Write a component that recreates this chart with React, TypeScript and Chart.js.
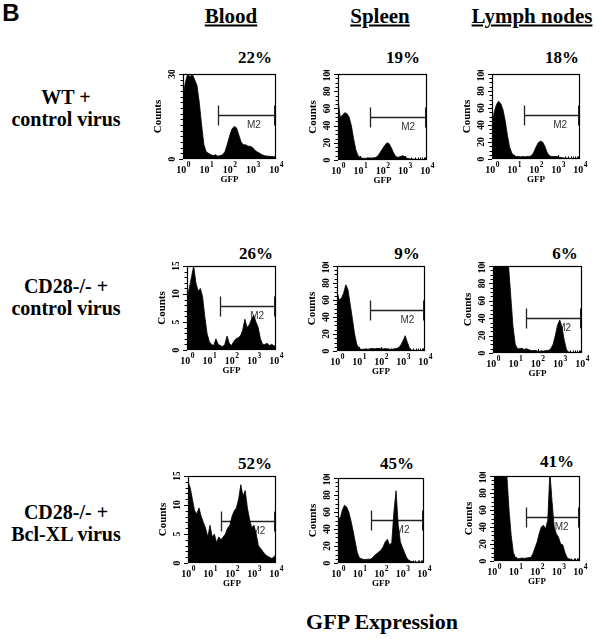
import React, { useEffect, useRef } from "react";
import { Chart, registerables } from "chart.js";

Chart.register(...registerables);

// ---------- data ----------
const panelLetter = "B";
const columnTitles = ["Blood", "Spleen", "Lymph nodes"];
const rowTitles = [
  ["WT +", "control virus"],
  ["CD28-/- +", "control virus"],
  ["CD28-/- +", "Bcl-XL virus"],
];
const percents = ["22%", "19%", "18%", "26%", "9%", "6%", "52%", "45%", "41%"];
const xAxisTitle = "GFP";
const yAxisTitle = "Counts";
const figureTitle = "GFP Expression";
const gateName = "M2";

// GFP bins, in decades (10^0 .. 10^4)
const gfpDecades = [
  0, 0.1, 0.2, 0.3, 0.4, 0.5, 0.6, 0.7, 0.8, 0.9,
  1, 1.1, 1.2, 1.3, 1.4, 1.5, 1.6, 1.7, 1.8, 1.9,
  2, 2.1, 2.2, 2.3, 2.4, 2.5, 2.6, 2.7, 2.8, 2.9,
  3, 3.1, 3.2, 3.3, 3.4, 3.5, 3.6, 3.7, 3.8, 3.9, 4,
];
const xMajorDecades = [0, 1, 2, 3, 4];

const wtBloodCounts = [22, 27, 30, 29, 30, 28, 26, 20, 12, 5, 2.5, 2, 1.5, 1.2, 1.5, 1, 1.2, 1.5, 2.5, 5, 8, 10.5, 11.5, 11, 8.5, 6, 5, 5, 4.5, 4.5, 4, 3, 2.5, 2, 1.5, 1.2, 1, 1, 0.8, 0.8, 0.6];
const wtSpleenCounts = [70, 50, 52, 55, 54, 50, 40, 25, 12, 5, 3, 2, 2, 2, 2.5, 2, 2.5, 3, 5, 9, 13, 17, 20, 19, 14, 8, 4, 3, 4, 5, 4, 2, 1.5, 1, 1, 0.8, 0.6, 0.5, 0.5, 0.4, 0.3];
const wtLymphCounts = [40, 55, 64, 68, 65, 58, 45, 28, 14, 7, 4, 3, 3, 2.5, 3, 2.5, 3, 3, 4, 8, 14, 19, 21, 20, 15, 8, 4, 3, 3, 3, 2.5, 2, 1.5, 1, 1, 0.8, 0.6, 0.5, 0.4, 0.4, 0.3];
const cd28BloodCounts = [9, 11, 13, 15, 12, 10.5, 11, 9.5, 6, 3, 1.5, 1, 0.8, 2, 1, 0.8, 0.6, 1, 2.5, 1.2, 0.8, 1.5, 2, 2.2, 2.5, 3.5, 5.5, 4, 4.5, 5.5, 6.2, 5, 4, 2, 1, 1, 1.2, 0.8, 1, 0.8, 0.6];
const cd28SpleenCounts = [70, 60, 62, 68, 78, 72, 55, 38, 20, 8, 3, 2, 2, 2.5, 2, 2.5, 3, 2.5, 3, 3, 2.5, 2.5, 3, 2.5, 2, 2, 2.5, 3, 4, 7, 12, 18, 10, 3, 1, 0.8, 0.6, 0.5, 0.5, 0.4, 0.3];
const cd28LymphCounts = [180, 230, 250, 220, 190, 150, 115, 100, 65, 30, 10, 5, 5, 5.5, 4, 5, 4, 3, 2.5, 3, 2, 2, 2.5, 2, 3, 3, 5, 10, 20, 32, 38, 30, 15, 4, 1, 0.8, 0.5, 0.5, 0.4, 0.3, 0.3];
const bclBloodCounts = [14, 13, 11, 9, 8.5, 9.5, 8, 7, 6, 4.5, 6.5, 4.5, 5, 3.5, 4.5, 4, 4.5, 5, 6, 6.5, 8, 9, 9.5, 11, 13.5, 11.5, 12.5, 9.5, 7.5, 6, 6.5, 5, 3, 2.5, 2, 1.5, 1.2, 1, 0.8, 1, 1.5];
const bclSpleenCounts = [55, 52, 62, 68, 66, 60, 50, 38, 25, 12, 6, 5, 4, 4, 4.5, 4.5, 6, 9, 11, 13, 15, 19, 25, 28, 21, 24, 60, 85, 45, 25, 18, 12, 6, 3, 2, 1.5, 1, 1, 0.8, 0.6, 0.5];
const bclLymphCounts = [130, 160, 180, 170, 150, 125, 100, 60, 30, 10, 4, 3, 3, 3.5, 3, 3.5, 4, 4, 8, 15, 22, 32, 40, 42, 38, 48, 105, 70, 40, 32, 28, 20, 19, 10, 4, 2, 1.5, 1, 0.8, 0.8, 0.6];

const panelCounts = [
  wtBloodCounts, wtSpleenCounts, wtLymphCounts,
  cd28BloodCounts, cd28SpleenCounts, cd28LymphCounts,
  bclBloodCounts, bclSpleenCounts, bclLymphCounts,
];
const yMax = [30, 100, 100, 15, 100, 100, 15, 100, 100];
const yLabelStep = [30, 20, 20, 5, 20, 20, 5, 20, 20];
const yMinorStep = [2, 5, 5, 1, 5, 5, 1, 5, 5];
const m2Start = [1.49, 1.44, 1.45, 1.5, 1.5, 1.5, 1.5, 1.54, 1.49];
const m2Level = [15.5, 50, 52, 7.9, 48.5, 40, 7.3, 50.6, 51.6];
const m2LabelAt = [3.05, 3.15, 3.1, 3.15, 3.2, 3.2, 3.2, 3.0, 3.15];

// ---------- layout ----------
const panelBoxes = [
  [183, 74, 276, 159], [338, 74, 427, 160], [492, 74, 580, 159],
  [187, 266, 276, 350], [337, 266, 425, 351], [493, 266, 582, 353],
  [188, 476, 276, 563], [338, 478, 424, 563], [494, 476, 580, 561],
];
const percentPos = [
  [255, 57], [403, 57], [562, 57],
  [256, 253], [407, 253], [565, 253],
  [255, 463], [397, 463], [557, 461],
];
const headerPos = [[231, 16], [380, 16], [532, 16]];
const rowLabelPos = [[66, 97], [66, 286], [66, 512]];

const PAD_L = 40, PAD_T = 4, PAD_R = 14, PAD_B = 30;
const SERIF = '"Liberation Serif", "Times New Roman", serif';

function makePlugin(idx: number) {
  return {
    id: "facs" + idx,
    beforeDatasetsDraw(chart: any) {
      const { ctx, scales } = chart;
      const x = scales.x, y = scales.y;
      const lv = Math.round(y.getPixelForValue(m2Level[idx])) + 0.5;
      const x0 = Math.round(x.getPixelForValue(m2Start[idx])) + 0.5;
      const x1 = x.getPixelForValue(4);
      ctx.save();
      ctx.strokeStyle = "#222";
      ctx.lineWidth = 1.3;
      ctx.beginPath();
      ctx.moveTo(x0, lv); ctx.lineTo(x1, lv);
      ctx.moveTo(x0, lv - 10); ctx.lineTo(x0, lv + 10);
      ctx.stroke();
      ctx.lineWidth = 2;
      ctx.beginPath();
      ctx.moveTo(x1 - 1, lv - 10); ctx.lineTo(x1 - 1, lv + 10);
      ctx.stroke();
      ctx.fillStyle = "#333";
      ctx.font = '10px "Liberation Sans", Arial, sans-serif';
      ctx.textAlign = "center";
      ctx.textBaseline = "middle";
      ctx.fillText(gateName, x.getPixelForValue(m2LabelAt[idx]), lv + 10);
      ctx.restore();
    },
    afterDatasetsDraw(chart: any) {
      const { ctx, chartArea: a, scales } = chart;
      const x = scales.x, y = scales.y;
      ctx.save();
      ctx.strokeStyle = "#000";
      ctx.fillStyle = "#000";
      ctx.lineWidth = 1.2;
      ctx.strokeRect(a.left + 0.5, a.top + 0.5, a.right - a.left - 1, a.bottom - a.top - 1);
      // x ticks (inward)
      ctx.lineWidth = 1;
      ctx.beginPath();
      for (let d = 0; d < 4; d++) {
        for (let k = 1; k <= 9; k++) {
          const px = Math.round(x.getPixelForValue(d + Math.log10(k))) + 0.5;
          const len = k === 1 ? 4 : 2.5;
          ctx.moveTo(px, a.bottom);
          ctx.lineTo(px, a.bottom - len);
        }
      }
      ctx.stroke();
      // x labels
      ctx.textBaseline = "middle";
      for (const d of xMajorDecades) {
        const px = x.getPixelForValue(d);
        ctx.font = "bold 10px " + SERIF;
        const w1 = ctx.measureText("10").width;
        ctx.font = "bold 7.5px " + SERIF;
        const sup = String(d);
        const w2 = ctx.measureText(sup).width;
        const start = px - (w1 + w2) / 2;
        ctx.textAlign = "left";
        ctx.font = "bold 10px " + SERIF;
        ctx.fillText("10", start, a.bottom + 11);
        ctx.font = "bold 7.5px " + SERIF;
        ctx.fillText(sup, start + w1 + 0.5, a.bottom + 6.5);
      }
      ctx.textAlign = "center";
      ctx.font = "bold 9px " + SERIF;
      ctx.fillText(xAxisTitle, (a.left + a.right) / 2, a.bottom + 21);
      // y ticks (outward)
      ctx.beginPath();
      const minor = yMinorStep[idx], major = yLabelStep[idx];
      for (let v = 0; v <= yMax[idx] + 1e-9; v += minor) {
        const py = Math.round(y.getPixelForValue(v)) + 0.5;
        const isMajor = Math.abs(v / major - Math.round(v / major)) < 1e-6;
        ctx.moveTo(a.left, py);
        ctx.lineTo(a.left - (isMajor ? 4 : 2.5), py);
      }
      ctx.stroke();
      // y labels (rotated)
      ctx.font = "bold 9.5px " + SERIF;
      for (let v = 0; v <= yMax[idx] + 1e-9; v += major) {
        const py = y.getPixelForValue(v);
        ctx.save();
        ctx.translate(a.left - 10, py);
        ctx.rotate(-Math.PI / 2);
        ctx.fillText(String(v), 0, 0);
        ctx.restore();
      }
      ctx.save();
      ctx.font = "bold 11px " + SERIF;
      ctx.translate(a.left - 25, (a.top + a.bottom) / 2);
      ctx.rotate(-Math.PI / 2);
      ctx.fillText(yAxisTitle, 0, 0);
      ctx.restore();
      ctx.restore();
    },
  };
}

function Panel({ idx }: { idx: number }) {
  const ref = useRef<HTMLCanvasElement>(null);
  const [L, T, R, B] = panelBoxes[idx];
  const w = R - L + PAD_L + PAD_R;
  const h = B - T + PAD_T + PAD_B;
  useEffect(() => {
    const chart = new Chart(ref.current as HTMLCanvasElement, {
      type: "line",
      data: {
        datasets: [
          {
            data: gfpDecades.map((gx, i) => ({ x: gx, y: panelCounts[idx][i] })),
            fill: "origin",
            backgroundColor: "#000",
            borderColor: "#000",
            borderWidth: 0.8,
            pointRadius: 0,
            tension: 0,
          },
        ],
      },
      options: {
        responsive: false,
        animation: false,
        events: [],
        layout: { padding: { left: PAD_L, top: PAD_T, right: PAD_R, bottom: PAD_B } },
        plugins: { legend: { display: false }, tooltip: { enabled: false } },
        scales: {
          x: { type: "linear", min: 0, max: 4, display: false },
          y: { type: "linear", min: 0, max: yMax[idx], display: false },
        },
      },
      plugins: [makePlugin(idx)],
    } as any);
    return () => chart.destroy();
  }, [idx]);
  return (
    <canvas
      ref={ref}
      width={w}
      height={h}
      style={{ position: "absolute", left: L - PAD_L, top: T - PAD_T, width: w, height: h }}
    />
  );
}

const centered: React.CSSProperties = {
  position: "absolute",
  transform: "translate(-50%, -50%)",
  whiteSpace: "nowrap",
  fontFamily: SERIF,
  fontWeight: "bold",
  color: "#000",
  lineHeight: 1,
};

export default function App() {
  return (
    <div style={{ position: "absolute", left: 0, top: 0, width: 600, height: 639, background: "#fff", overflow: "hidden" }}>
      <div style={{ ...centered, left: 11, top: 13, fontFamily: '"Liberation Sans", Arial, sans-serif', fontSize: 24 }}>
        {panelLetter}
      </div>
      {columnTitles.map((t, i) => (
        <div key={t} style={{ ...centered, left: headerPos[i][0], top: headerPos[i][1], fontSize: 21, textDecoration: "underline" }}>
          {t}
        </div>
      ))}
      {rowTitles.map((lines, i) => (
        <React.Fragment key={i}>
          <div style={{ ...centered, left: rowLabelPos[i][0], top: rowLabelPos[i][1], fontSize: 20 }}>{lines[0]}</div>
          <div style={{ ...centered, left: rowLabelPos[i][0], top: rowLabelPos[i][1] + 22, fontSize: 20 }}>{lines[1]}</div>
        </React.Fragment>
      ))}
      {percents.map((p, i) => (
        <div key={i} style={{ ...centered, left: percentPos[i][0], top: percentPos[i][1], fontSize: 17 }}>
          {p}
        </div>
      ))}
      {panelBoxes.map((_, i) => (
        <Panel key={i} idx={i} />
      ))}
      <div style={{ ...centered, left: 382, top: 622, fontSize: 22 }}>{figureTitle}</div>
    </div>
  );
}
